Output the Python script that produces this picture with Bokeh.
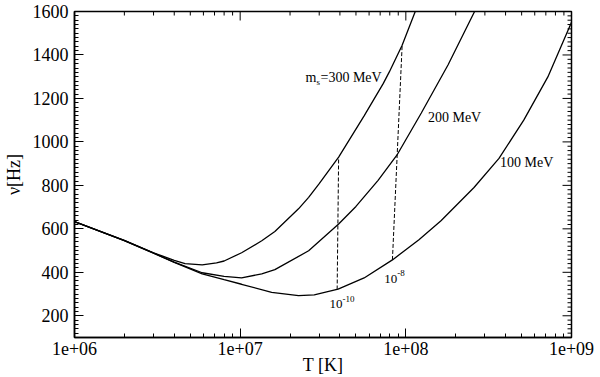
from bokeh.plotting import figure
from bokeh.models import FixedTicker, CustomJSTickFormatter, Label
from bokeh.embed import file_html
from bokeh.resources import INLINE

# ---- data ----
T_300 = [1e6, 2e6, 3e6, 4e6, 4.65e6, 5.9e6, 7.2e6, 8e6, 1.02e7, 1.35e7, 1.62e7, 2.25e7,
         2.59e7, 3.0e7, 3.93e7, 5.6e7, 7.3e7, 7.95e7, 9.5e7, 1.14e8]
NU_300 = [633, 547, 490, 455, 440, 434, 443, 452, 490, 545, 588, 692,
          745, 808, 930, 1120, 1268, 1322, 1445, 1600]

T_200 = [1e6, 2e6, 3e6, 4e6, 5.9e6, 8e6, 1.02e7, 1.35e7, 1.62e7, 2.59e7, 3.93e7,
         5e7, 6.8e7, 8.9e7, 1.24e8, 1.8e8, 2.6e8]
NU_200 = [633, 546, 488, 447, 398, 381, 374, 393, 412, 499, 622,
          703, 823, 943, 1133, 1355, 1600]

T_100 = [1e6, 2e6, 3e6, 4e6, 5.9e6, 8e6, 1.02e7, 1.55e7, 2.25e7, 2.8e7, 3.9e7,
         5.6e7, 8.3e7, 1.2e8, 1.63e8, 2.58e8, 3.65e8, 5.15e8, 7.2e8, 1e9]
NU_100 = [633, 546, 488, 446, 393, 366, 345, 308, 293, 296, 323,
          374, 457, 550, 637, 790, 924, 1100, 1299, 1550]

DASH_10_T = [3.85e7, 3.93e7]
DASH_10_NU = [321, 930]
DASH_8_T = [8.3e7, 9.5e7]
DASH_8_NU = [457, 1445]

X_TICKS = [1e6, 1e7, 1e8, 1e9]
X_MINOR = [m * 10 ** e for e in (6, 7, 8) for m in range(2, 10)]
Y_TICKS = list(range(200, 1601, 200))
Y_MINOR = [v for v in range(120, 1600, 20) if v % 200 != 0]
X_RANGE = (1e6, 1e9)
Y_RANGE = (100, 1600)

FONT = "Liberation Serif"

# layout (pixels)
W, H = 600, 377
LEFT, RIGHT, TOP, BOTTOM = 72, 29, 11, 40
FRAME_W = W - LEFT - RIGHT
FRAME_H = H - TOP - BOTTOM
MAJ_LEN, MIN_LEN = 9, 4

p = figure(width=W, height=H, x_axis_type="log", x_range=X_RANGE, y_range=Y_RANGE,
           output_backend="svg", toolbar_location=None,
           min_border_left=LEFT, min_border_right=RIGHT, min_border_top=TOP,
           min_border_bottom=BOTTOM,
           x_axis_label="T [K]", y_axis_label="ν[Hz]")
p.grid.visible = False
p.outline_line_color = "black"
p.outline_line_width = 1.5
p.background_fill_color = "white"
p.border_fill_color = "white"

fmt = CustomJSTickFormatter(code="return tick.toExponential(0).replace('e+', 'e+0');")

for ax in (p.xaxis[0], p.yaxis[0]):
    ax.axis_line_color = "black"
    ax.axis_line_width = 1.5
    ax.major_tick_in = MAJ_LEN
    ax.major_tick_out = 0
    ax.minor_tick_in = MIN_LEN
    ax.minor_tick_out = 0
    ax.major_tick_line_color = "black"
    ax.minor_tick_line_color = "black"
    ax.major_label_text_font = FONT
    ax.major_label_text_font_size = "18px"
    ax.major_label_text_color = "black"
    ax.axis_label_text_font = FONT
    ax.axis_label_text_font_size = "18px"
    ax.axis_label_text_font_style = "normal"
    ax.axis_label_text_color = "black"

xb = p.xaxis[0]
xb.ticker = FixedTicker(ticks=X_TICKS, minor_ticks=X_MINOR)
xb.formatter = fmt
xb.major_label_standoff = 4
xb.axis_label_standoff = -3

yl = p.yaxis[0]
yl.ticker = FixedTicker(ticks=Y_TICKS, minor_ticks=Y_MINOR)
yl.major_label_standoff = 6
yl.axis_label_standoff = 6

# mirrored inward ticks on the top and right edges of the frame
ypp = (Y_RANGE[1] - Y_RANGE[0]) / FRAME_H          # data units per pixel (y)
dpp = 3.0 / FRAME_W                                 # decades per pixel (x)
for ticks, L in ((X_TICKS, MAJ_LEN), (X_MINOR, MIN_LEN)):
    p.segment(x0=ticks, x1=ticks, y0=[Y_RANGE[1]] * len(ticks),
              y1=[Y_RANGE[1] - L * ypp] * len(ticks), line_color="black", line_width=1)
for ticks, L in ((Y_TICKS, MAJ_LEN), (Y_MINOR, MIN_LEN)):
    p.segment(x0=[X_RANGE[1]] * len(ticks), x1=[X_RANGE[1] / 10 ** (L * dpp)] * len(ticks),
              y0=ticks, y1=ticks, line_color="black", line_width=1)

for T, NU in ((T_300, NU_300), (T_200, NU_200), (T_100, NU_100)):
    p.line(T, NU, line_color="black", line_width=1.3)

for T, NU in ((DASH_10_T, DASH_10_NU), (DASH_8_T, DASH_8_NU)):
    p.line(T, NU, line_color="black", line_width=1, line_dash="4 2")


def lab(x, y, text, size, dx=0, dy=0):
    p.add_layout(Label(x=x, y=y, text=text, x_offset=dx, y_offset=dy,
                       text_font=FONT, text_font_size=size, text_color="black",
                       text_baseline="middle", text_align="left"))


# curve labels
lab(2.48e7, 1295, "m", "14px")
lab(2.48e7, 1295, "s", "9px", dx=11, dy=-4)
lab(2.48e7, 1295, "=300 MeV", "14px", dx=15)
lab(1.36e8, 1114, "200 MeV", "14px")
lab(3.7e8, 906, "100 MeV", "14px")
lab(3.46e7, 253, "10", "13px")
lab(3.46e7, 253, "-10", "9px", dx=13, dy=5)
lab(7.4e7, 371, "10", "13px")
lab(7.4e7, 371, "-8", "9px", dx=13, dy=6)

open("out.html", "w").write(file_html(p, INLINE))
